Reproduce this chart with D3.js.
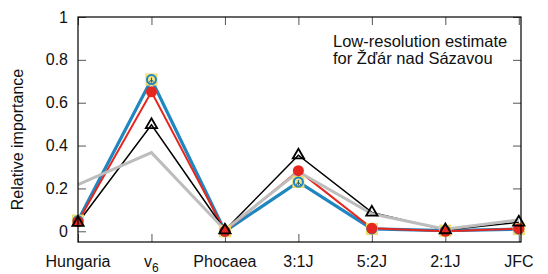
<!DOCTYPE html>
<html>
<head>
<meta charset="utf-8">
<script src="https://cdn.jsdelivr.net/npm/d3@7"></script>
<style>
  body { margin: 0; background: #fff; }
  text { font-family: "Liberation Sans", Arial, sans-serif; }
</style>
</head>
<body>
<script>
const categories = ["Hungaria", "v6", "Phocaea", "3:1J", "5:2J", "2:1J", "JFC"];
const blueVals = [0.05, 0.708, 0.0, 0.23, 0.011, 0.003, 0.01];
const redVals = [0.045, 0.651, 0.0, 0.283, 0.014, 0.0, 0.012];
const blackVals = [0.04, 0.497, 0.005, 0.355, 0.088, 0.006, 0.042];
const grayVals = [0.218, 0.367, 0.006, 0.278, 0.082, 0.01, 0.053];
const yTicks = [0, 0.2, 0.4, 0.6, 0.8, 1];

const width = 548, height = 274;
const margin = { left: 78, right: 521, top: 17, bottom: 242 };

const svg = d3.select("body").append("svg")
    .attr("width", width)
    .attr("height", height);

const x = d3.scaleLinear().domain([0, 6.03]).range([margin.left, margin.right]);
const y = d3.scaleLinear().domain([-0.05, 1]).range([margin.bottom, margin.top]);

// axes, ticks pointing inward
const yAxis = d3.axisLeft(y).tickValues(yTicks).tickFormat(d3.format("~g"))
    .tickSizeInner(-8).tickSizeOuter(0).tickPadding(10);
const yAxisR = d3.axisRight(y).tickValues(yTicks).tickFormat("")
    .tickSizeInner(-8).tickSizeOuter(0);
const xAxis = d3.axisBottom(x).tickValues(d3.range(categories.length)).tickFormat("")
    .tickSizeInner(-8).tickSizeOuter(0);
const xAxisT = d3.axisTop(x).tickValues(d3.range(categories.length)).tickFormat("")
    .tickSizeInner(-8).tickSizeOuter(0);

function styleAxis(g) {
  g.select(".domain").remove();
  g.selectAll(".tick line").attr("stroke", "#555").attr("stroke-width", 1);
  g.selectAll(".tick text").attr("fill", "#111").style("font-size", "16px");
}

svg.append("g").attr("transform", `translate(${margin.left},0)`).call(yAxis).call(styleAxis);
svg.append("g").attr("transform", `translate(${margin.right},0)`).call(yAxisR).call(styleAxis);
svg.append("g").attr("transform", `translate(0,${margin.bottom})`).call(xAxis).call(styleAxis);
svg.append("g").attr("transform", `translate(0,${margin.top})`).call(xAxisT).call(styleAxis);

// category labels
const xl = svg.append("g");
categories.forEach((c, i) => {
  const t = xl.append("text")
      .attr("x", x(i))
      .attr("y", 267)
      .attr("text-anchor", "middle")
      .style("font-size", "16px")
      .attr("fill", "#111");
  if (c === "v6") {
    t.append("tspan").text("v");
    t.append("tspan").attr("dy", 5).style("font-size", "12px").text("6");
  } else {
    t.text(c);
  }
});

// y title
svg.append("text")
    .attr("transform", `translate(23,${(margin.top + margin.bottom) / 2 + 10}) rotate(-90)`)
    .attr("text-anchor", "middle")
    .style("font-size", "16px")
    .attr("fill", "#111")
    .text("Relative importance");

// annotation
svg.append("text").attr("x", 333).attr("y", 47).style("font-size", "16.5px").attr("fill", "#111")
    .text("Low-resolution estimate");
svg.append("text").attr("x", 333).attr("y", 64).style("font-size", "16.5px").attr("fill", "#111")
    .text("for Žďár nad Sázavou");

const plot = svg.append("g");
const line = d3.line().x((d, i) => x(i)).y(d => y(d));

plot.append("path").datum(blueVals).attr("d", line)
    .attr("fill", "none").attr("stroke", "#1f86bf").attr("stroke-width", 3.2);
plot.append("path").datum(redVals).attr("d", line)
    .attr("fill", "none").attr("stroke", "#e6261f").attr("stroke-width", 2);
plot.append("path").datum(blackVals).attr("d", line)
    .attr("fill", "none").attr("stroke", "#000").attr("stroke-width", 1.5);
plot.append("path").datum(grayVals).attr("d", line)
    .attr("fill", "none").attr("stroke", "#bdbdbd").attr("stroke-width", 3);

// yellow squares behind blue circles
plot.selectAll(".sq").data(blueVals).join("rect")
    .attr("x", (d, i) => x(i) - 5.5).attr("y", d => y(d) - 5.5)
    .attr("width", 11).attr("height", 11)
    .attr("fill", "#f4e486").attr("stroke", "#eed860").attr("stroke-width", 1);
plot.selectAll(".bc").data(blueVals).join("circle")
    .attr("cx", (d, i) => x(i)).attr("cy", d => y(d)).attr("r", 4.5)
    .attr("fill", "none").attr("stroke", "#1f86bf").attr("stroke-width", 2);
plot.selectAll(".bm").data(blueVals).join("path")
    .attr("d", (d, i) => `M${x(i)},${y(d) - 2}V${y(d) + 3}M${x(i) - 2.5},${y(d) + 3}L${x(i)},${y(d)}L${x(i) + 2.5},${y(d) + 3}`)
    .attr("fill", "none").attr("stroke", "#1a5f88").attr("stroke-width", 1);

plot.selectAll(".rc").data(redVals).join("circle")
    .attr("cx", (d, i) => x(i)).attr("cy", d => y(d)).attr("r", 5.5)
    .attr("fill", "#e6261f");

const tri = d3.symbol().type(d3.symbolTriangle).size(55);
plot.selectAll(".bt").data(blackVals).join("path")
    .attr("transform", (d, i) => `translate(${x(i)},${y(d)})`)
    .attr("d", tri)
    .attr("fill", "none").attr("stroke", "#000").attr("stroke-width", 1.8);

// frame
svg.append("rect")
    .attr("x", margin.left).attr("y", margin.top)
    .attr("width", margin.right - margin.left).attr("height", margin.bottom - margin.top)
    .attr("fill", "none").attr("stroke", "#000").attr("stroke-width", 1.2);
</script>
</body>
</html>
